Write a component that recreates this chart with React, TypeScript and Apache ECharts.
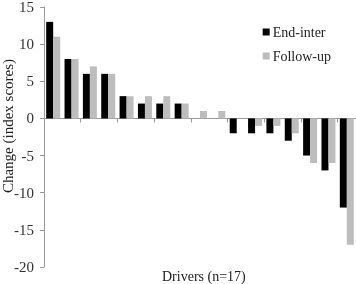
import React, { useEffect, useRef } from "react";
import * as echarts from "echarts";

const categories = ["D1","D2","D3","D4","D5","D6","D7","D8","D9","D10","D11","D12","D13","D14","D15","D16","D17"];
const endInter = [13, 8, 6, 6, 3, 2, 2, 2, 0, 0, -2, -2, -2, -3, -5, -7, -12];
const followUp = [11, 8, 7, 6, 3, 3, 3, 2, 1, 1, 0, -1, -1, -2, -6, -6, -17];
const yTicks = { min: -20, max: 15, interval: 5 };

const FONT = "Times New Roman, Liberation Serif, serif";

export default function App() {
  const ref = useRef<HTMLDivElement>(null);
  useEffect(() => {
    if (!ref.current) return;
    const chart = echarts.init(ref.current, undefined, { renderer: "svg" });
    chart.setOption({
      animation: false,
      textStyle: { fontFamily: FONT },
      grid: { left: 44, right: 0, top: 7, bottom: 17, outerBoundsMode: "none", containLabel: false },
      legend: {
        orient: "vertical",
        right: 20,
        top: 20,
        itemWidth: 7,
        itemHeight: 7,
        itemGap: 10,
        icon: "rect",
        textStyle: { fontFamily: FONT, fontSize: 14, color: "#222", padding: [0, 0, 0, -2] },
        data: ["End-inter", "Follow-up"],
      },
      xAxis: {
        type: "category",
        data: categories,
        axisLine: { onZero: true, lineStyle: { color: "#999", width: 1 } },
        axisTick: { show: true, length: 4, lineStyle: { color: "#999" } },
        axisLabel: { show: false },
      },
      yAxis: {
        type: "value",
        min: yTicks.min,
        max: yTicks.max,
        interval: yTicks.interval,
        splitLine: { show: false },
        axisLine: { show: true, lineStyle: { color: "#999", width: 1 } },
        axisTick: { show: true, length: 4, lineStyle: { color: "#999" } },
        axisLabel: { fontFamily: FONT, fontSize: 15, color: "#333", margin: 10 },
      },
      graphic: [
        {
          type: "text",
          x: 8,
          y: 126,
          rotation: Math.PI / 2,
          style: {
            text: "Change (index scores)",
            fontFamily: FONT,
            fontSize: 15,
            fill: "#222",
            align: "center",
            verticalAlign: "middle",
          },
        },
        {
          type: "text",
          left: 162,
          top: 269,
          style: { text: "Drivers (n=17)", fontFamily: FONT, fontSize: 14, fill: "#222" },
        },
      ],
      series: [
        {
          name: "End-inter",
          type: "bar",
          data: endInter,
          barWidth: 7,
          barGap: "0%",
          itemStyle: { color: "#000" },
        },
        {
          name: "Follow-up",
          type: "bar",
          data: followUp,
          barWidth: 7,
          barGap: "0%",
          itemStyle: { color: "#bdbdbd" },
        },
      ],
    });
    return () => chart.dispose();
  }, []);
  return <div ref={ref} style={{ position: "fixed", left: 0, top: 0, width: 356, height: 284 }} />;
}
